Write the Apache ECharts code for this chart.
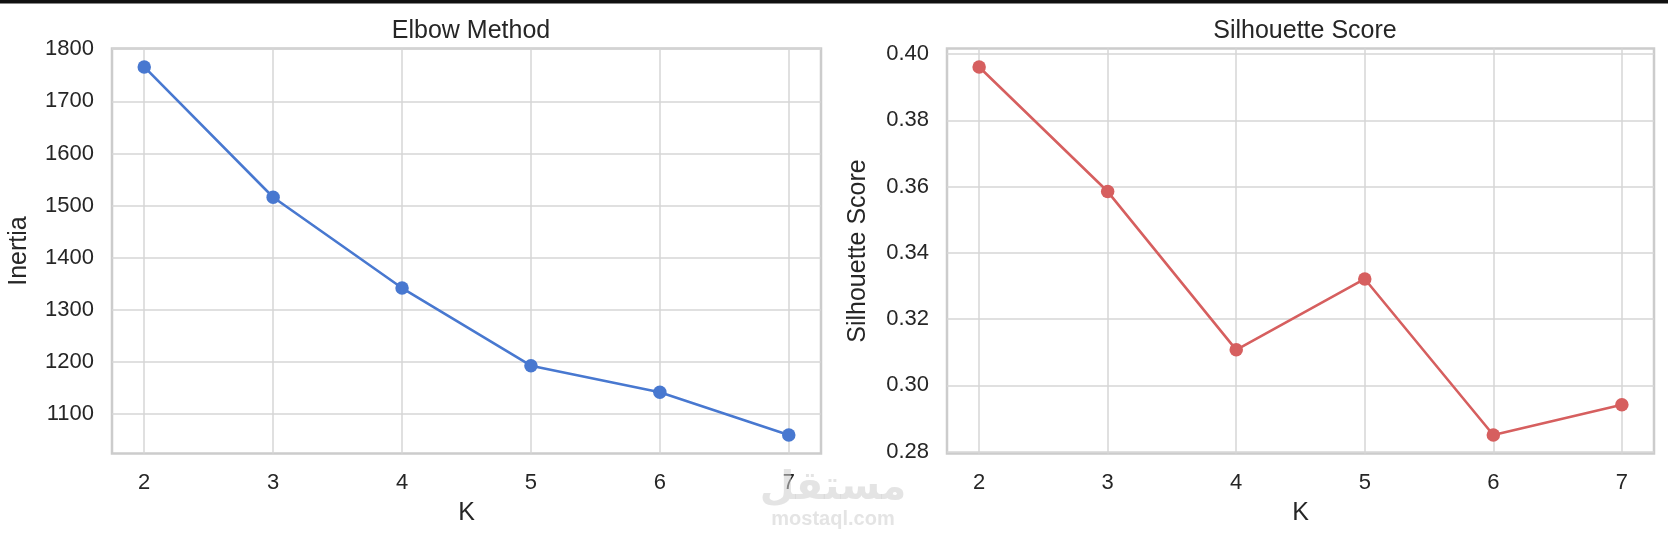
<!DOCTYPE html>
<html>
<head>
<meta charset="utf-8">
<script src="https://cdn.jsdelivr.net/npm/echarts@6/dist/echarts.min.js"></script>
<style>
  html, body { margin: 0; padding: 0; background: #fff; }
  #chart { width: 1668px; height: 542px; }
</style>
</head>
<body>
<div id="chart"></div>
<script>
// values
var kValues = [2, 3, 4, 5, 6, 7];
var inertia = [1766, 1516, 1342, 1193, 1142, 1060];
var silhouette = [0.3961, 0.3585, 0.3107, 0.3321, 0.2850, 0.2941];
var inertiaTicks = [1100, 1200, 1300, 1400, 1500, 1600, 1700, 1800];
var silhouetteTicks = [0.28, 0.30, 0.32, 0.34, 0.36, 0.38, 0.40];

var FONT = 'Liberation Sans';
var GRID = '#d6d6d6';
var SPINE = '#cccccc';

function pairs(xs, ys) {
  return xs.map(function (x, i) { return [x, ys[i]]; });
}

function xAxisFor(gridIndex) {
  return {
    type: 'value', gridIndex: gridIndex, min: 1.75, max: 7.25,
    name: 'K', nameLocation: 'middle', nameGap: 47,
    nameTextStyle: { fontFamily: FONT, fontSize: 25, color: '#262626' },
    axisLine: { show: false },
    axisTick: { show: false, customValues: kValues },
    axisLabel: { customValues: kValues, margin: 18, fontFamily: FONT, fontSize: 22, color: '#262626' },
    splitLine: { show: true, lineStyle: { color: GRID, width: 1.5 } }
  };
}

function yAxisFor(gridIndex, min, max, ticks, name, gap, fmt) {
  return {
    type: 'value', gridIndex: gridIndex, min: min, max: max,
    name: name, nameLocation: 'middle', nameGap: gap,
    nameTextStyle: { fontFamily: FONT, fontSize: 25, color: '#262626' },
    axisLine: { show: false },
    axisTick: { show: false, customValues: ticks },
    axisLabel: { customValues: ticks, margin: 18, fontFamily: FONT, fontSize: 22, color: '#262626', formatter: fmt },
    splitLine: { show: true, lineStyle: { color: GRID, width: 1.5 } }
  };
}

function lineSeries(idx, data, color) {
  return {
    type: 'line', xAxisIndex: idx, yAxisIndex: idx, data: data,
    symbol: 'circle', symbolSize: 13.5, showSymbol: true,
    lineStyle: { color: color, width: 2.6 },
    itemStyle: { color: color },
    emphasis: { disabled: true },
    z: 5
  };
}

var chart = echarts.init(document.getElementById('chart'), null, { renderer: 'canvas' });

chart.setOption({
  animation: false,
  backgroundColor: '#ffffff',
  title: [
    { text: 'Elbow Method', left: 466, top: 14, textAlign: 'center',
      textStyle: { fontFamily: FONT, fontSize: 25, fontWeight: 'normal', color: '#262626' } },
    { text: 'Silhouette Score', left: 1300, top: 14, textAlign: 'center',
      textStyle: { fontFamily: FONT, fontSize: 25, fontWeight: 'normal', color: '#262626' } }
  ],
  grid: [
    { left: 112, right: 847, top: 48.5, bottom: 88.5, show: true,
      borderColor: SPINE, borderWidth: 2.5, backgroundColor: 'transparent' },
    { left: 947, right: 14, top: 48.5, bottom: 88.5, show: true,
      borderColor: SPINE, borderWidth: 2.5, backgroundColor: 'transparent' }
  ],
  xAxis: [xAxisFor(0), xAxisFor(1)],
  yAxis: [
    yAxisFor(0, 1024.7, 1801.3, inertiaTicks, 'Inertia', 80, function (v) { return String(v); }),
    yAxisFor(1, 0.2794, 0.4017, silhouetteTicks, 'Silhouette Score', 76, function (v) { return v.toFixed(2); })
  ],
  series: [
    lineSeries(0, pairs(kValues, inertia), '#4878d0'),
    lineSeries(1, pairs(kValues, silhouette), '#d65f5f')
  ],
  graphic: [
    { type: 'rect', left: 0, top: 0, shape: { width: 1668, height: 3.5 }, style: { fill: '#111111' }, z: 100 },
    { type: 'text', z: 100, silent: true, position: [833, 488],
      style: { text: 'مستقل', fill: 'rgba(205,205,205,0.55)', font: 'bold 40px "Noto Sans", "DejaVu Sans", sans-serif',
               textAlign: 'center', textVerticalAlign: 'middle' } },
    { type: 'text', z: 100, silent: true, position: [833, 519],
      style: { text: 'mostaql.com', fill: 'rgba(205,205,205,0.55)', font: 'bold 20px "Liberation Sans", sans-serif',
               textAlign: 'center', textVerticalAlign: 'middle' } }
  ]
});
</script>
</body>
</html>
